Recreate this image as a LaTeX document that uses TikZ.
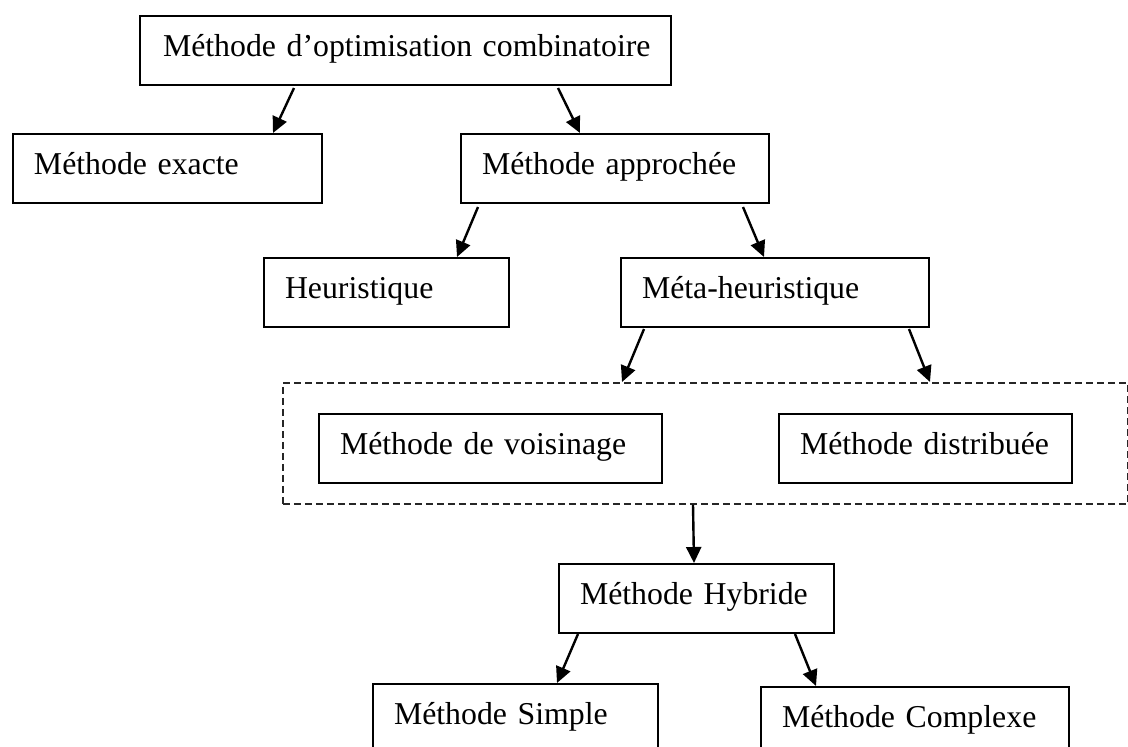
\documentclass[tikz,border=0pt]{standalone}
\usepackage{fontspec}
\setmainfont{Liberation Serif}
\usetikzlibrary{arrows.meta,calc}
\newcommand\mainsize{\fontsize{31.8pt}{38pt}\selectfont}
\tikzset{
  box/.style={draw, line width=2pt, inner xsep=21pt, inner ysep=0pt,
    text height=40pt, text depth=29pt, align=left, anchor=north west, font=\mainsize},
  grp/.style={draw=black!85, line width=1.6pt, dash pattern=on 7pt off 4pt,
    inner sep=0pt, anchor=north west},
  arr/.style={line width=2.4pt, -{Triangle[length=16pt,width=15pt]}}
}
\begin{document}
\begin{tikzpicture}[x=1pt,y=-1pt]
\useasboundingbox (0,0) rectangle (1128,747);
\clip (0,0) rectangle (1128,747);
\node[box, inner xsep=23pt, text width=485pt] (comb) at (139,15) {\mbox{Méthode d’optimisation combinatoire}};
\node[box, text width=267pt] (exacte) at (12,133) {\mbox{Méthode exacte}};
\node[box, text width=266pt] (appro) at (460,133) {\mbox{Méthode approchée}};
\node[box, text width=203pt] (heur) at (263,257) {\mbox{Heuristique}};
\node[box, text width=266pt] (meta) at (620,257) {\mbox{Méta-heuristique}};
\node[grp, minimum width=845pt, minimum height=121pt] (group) at (282,382) {};
\node[box, text width=301pt] (vois) at (318,413) {\mbox{Méthode de voisinage}};
\node[box, text width=251pt] (distr) at (778,413) {\mbox{Méthode distribuée}};
\node[box, text width=233pt] (hyb) at (558,563) {\mbox{Méthode Hybride}};
\node[box, text width=243pt] (simple) at (372,683) {\mbox{Méthode Simple}};
\node[box, text width=266pt] (complexe) at (760,686) {\mbox{Méthode Complexe}};
\draw[arr] ($(comb.south west)+(155,2)$) -- ($(exacte.north west)+(261,0)$);
\draw[arr] ($(comb.south west)+(419,2)$) -- ($(appro.north west)+(120,0)$);
\draw[arr] ($(appro.south west)+(18,3)$) -- ($(heur.north west)+(194,0)$);
\draw[arr] ($(appro.south west)+(283,3)$) -- ($(meta.north west)+(144,0)$);
\draw[arr] ($(meta.south west)+(24,1)$) -- ($(group.north west)+(340,0)$);
\draw[arr] ($(meta.south west)+(289,1)$) -- ($(group.north west)+(648,0)$);
\draw[arr] ($(group.south west)+(411,0)$) -- ($(hyb.north west)+(136,0)$);
\draw[arr] ($(hyb.south west)+(20,0)$) -- ($(simple.north west)+(185,0)$);
\draw[arr] ($(hyb.south west)+(237,0)$) -- ($(complexe.north west)+(56,0)$);
\end{tikzpicture}
\end{document}
